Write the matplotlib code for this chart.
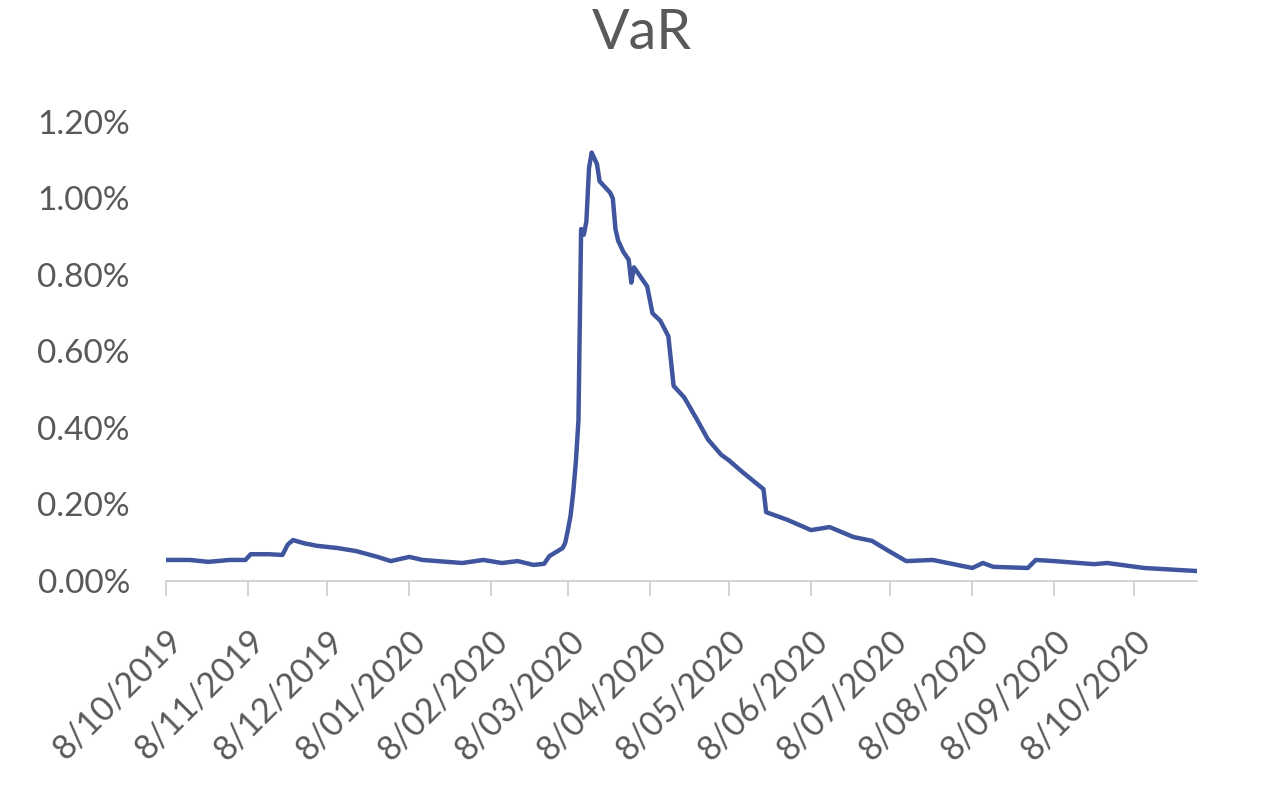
import matplotlib
matplotlib.use("Agg")
import matplotlib.pyplot as plt
import matplotlib.dates as mdates
import matplotlib.ticker as mticker
import numpy as np

# VaR series (values in %)
dates = [
    "2019-10-08", "2019-10-17", "2019-10-24", "2019-11-01", "2019-11-07",
    "2019-11-09", "2019-11-16", "2019-11-21", "2019-11-23", "2019-11-25",
    "2019-11-29", "2019-12-04", "2019-12-12", "2019-12-19", "2019-12-27",
    "2020-01-01", "2020-01-08", "2020-01-13", "2020-01-28", "2020-02-05",
    "2020-02-12", "2020-02-18", "2020-02-24", "2020-02-28", "2020-03-01",
    "2020-03-06", "2020-03-07", "2020-03-08", "2020-03-09", "2020-03-10",
    "2020-03-11", "2020-03-12", "2020-03-13", "2020-03-14", "2020-03-15",
    "2020-03-16", "2020-03-17", "2020-03-18", "2020-03-19", "2020-03-20",
    "2020-03-22", "2020-03-24", "2020-03-25", "2020-03-26", "2020-03-27",
    "2020-03-29", "2020-03-31", "2020-04-01", "2020-04-02", "2020-04-05",
    "2020-04-07", "2020-04-09", "2020-04-12", "2020-04-15", "2020-04-17",
    "2020-04-21", "2020-04-26", "2020-04-30", "2020-05-05", "2020-05-08",
    "2020-05-13", "2020-05-21", "2020-05-22", "2020-05-30", "2020-06-08",
    "2020-06-15", "2020-06-24", "2020-07-01", "2020-07-07", "2020-07-14",
    "2020-07-24", "2020-08-08", "2020-08-12", "2020-08-16", "2020-08-29",
    "2020-09-01", "2020-09-08", "2020-09-23", "2020-09-28", "2020-10-12",
    "2020-11-01",
]
var_pct = [
    0.055, 0.055, 0.050, 0.055, 0.055,
    0.070, 0.070, 0.068, 0.095, 0.107,
    0.099, 0.092, 0.086, 0.078, 0.063,
    0.052, 0.063, 0.055, 0.047, 0.055,
    0.047, 0.052, 0.042, 0.045, 0.065,
    0.086, 0.100, 0.133, 0.170, 0.230,
    0.310, 0.420, 0.920, 0.905, 0.940,
    1.080, 1.120, 1.105, 1.090, 1.045,
    1.030, 1.015, 1.000, 0.920, 0.890,
    0.860, 0.840, 0.780, 0.820, 0.790,
    0.770, 0.700, 0.680, 0.640, 0.510,
    0.480, 0.420, 0.370, 0.330, 0.315,
    0.285, 0.240, 0.180, 0.160, 0.133,
    0.141, 0.115, 0.105, 0.080, 0.052,
    0.055, 0.034, 0.047, 0.037, 0.034,
    0.055, 0.052, 0.044, 0.047, 0.034,
    0.026,
]
tick_dates = ["2019-10-08", "2019-11-08", "2019-12-08", "2020-01-08",
              "2020-02-08", "2020-03-08", "2020-04-08", "2020-05-08",
              "2020-06-08", "2020-07-08", "2020-08-08", "2020-09-08",
              "2020-10-08"]
y_ticks = [0.0, 0.2, 0.4, 0.6, 0.8, 1.0, 1.2]

x = np.array(dates, dtype="datetime64[D]")
xt = np.array(tick_dates, dtype="datetime64[D]")

txt = "#595959"
plt.rcParams['font.family'] = ['Lato', 'DejaVu Sans']

fig = plt.figure(figsize=(12.68, 7.91), dpi=100)
ax = fig.add_axes([0.131, 0.2655, 0.813, 0.5803])

ax.plot(x, var_pct, color="#3F559E", lw=3.2, solid_joinstyle="round")

ax.set_xlim(np.datetime64("2019-10-08"), np.datetime64("2020-11-01"))
ax.set_ylim(0, 1.2)
ax.set_yticks(y_ticks)
ax.yaxis.set_major_formatter(mticker.FuncFormatter(lambda v, p: f"{v:.2f}%"))
ax.set_xticks(xt)
ax.xaxis.set_major_formatter(mdates.DateFormatter("%-d/%m/%Y"))

for s in ["top", "right", "left"]:
    ax.spines[s].set_visible(False)
ax.spines["bottom"].set_color("#D0D0D0")
ax.spines["bottom"].set_linewidth(1.3)

ax.tick_params(axis="y", length=0, pad=26, labelsize=24, labelcolor=txt)
ax.tick_params(axis="x", length=11, width=1.3, color="#D0D0D0", pad=20,
               labelsize=24.5, labelcolor=txt)
for lab in ax.get_xticklabels():
    lab.set_rotation(45)
    lab.set_ha("right")
    lab.set_va("top")
    lab.set_rotation_mode("anchor")

fig.text(0.506, 0.958, "VaR", ha="center", va="center", fontsize=40, color=txt)

fig.savefig("out.png", dpi=100, facecolor="white")
